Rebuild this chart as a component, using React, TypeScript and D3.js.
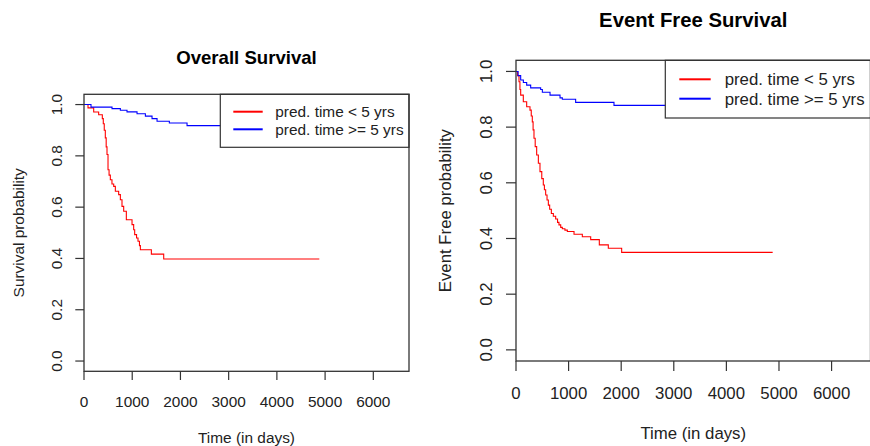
import React from "react";
import * as d3 from "d3";

// ---- Data ----
const xTicks = [0, 1000, 2000, 3000, 4000, 5000, 6000];
const yTicks = [0, 0.2, 0.4, 0.6, 0.8, 1.0];
const seriesLabels = ["pred. time < 5 yrs", "pred. time >= 5 yrs"];
const seriesColors = ["#ff0000", "#0000ff"];

// Overall survival: [time, survival]
const osShort: [number, number][] = [
  [0, 1], [83, 0.987], [201, 0.971], [304, 0.96], [380, 0.945], [400, 0.925], [420, 0.9],
  [442, 0.87], [460, 0.835], [477, 0.805], [498, 0.746], [520, 0.725], [546, 0.707],
  [580, 0.69], [616, 0.681], [650, 0.662], [719, 0.649], [754, 0.629], [788, 0.603],
  [823, 0.584], [878, 0.551], [996, 0.532], [1030, 0.512], [1051, 0.493], [1090, 0.48],
  [1120, 0.467], [1150, 0.45], [1169, 0.434], [1397, 0.417], [1653, 0.398], [4880, 0.398],
];
const osLong: [number, number][] = [
  [0, 1], [145, 0.99], [581, 0.984], [754, 0.978], [892, 0.9715], [1100, 0.964],
  [1273, 0.955], [1411, 0.945], [1515, 0.935], [1770, 0.928], [2137, 0.918], [4900, 0.918],
];

// Event free survival
const efsShort: [number, number][] = [
  [0, 1], [30, 0.985], [57, 0.963], [75, 0.935], [89, 0.915], [139, 0.891], [203, 0.873],
  [266, 0.861], [290, 0.84], [310, 0.819], [325, 0.79], [342, 0.76], [365, 0.73],
  [393, 0.7], [425, 0.67], [456, 0.64], [490, 0.615], [519, 0.592], [540, 0.575],
  [564, 0.556], [590, 0.538], [615, 0.52], [640, 0.505], [672, 0.49], [710, 0.48],
  [754, 0.47], [790, 0.458], [817, 0.449], [850, 0.44], [881, 0.435], [930, 0.43],
  [976, 0.425], [1103, 0.415], [1261, 0.406], [1420, 0.396], [1584, 0.377],
  [1755, 0.365], [2009, 0.35], [4880, 0.35],
];
const efsLong: [number, number][] = [
  [0, 1], [40, 0.985], [89, 0.969], [140, 0.96], [203, 0.951], [279, 0.941], [469, 0.935],
  [501, 0.925], [647, 0.915], [837, 0.905], [881, 0.9], [1134, 0.889], [1863, 0.878],
  [4900, 0.878],
];

const FONT = "'Liberation Sans', Arial, Helvetica, sans-serif";

type PanelProps = {
  title: string;
  ylabel: string;
  curves: [number, number][][];
  box: { x0: number; x1: number; y0: number; y1: number };
  fs: number;
  titleFs: number;
  tickLen: number;
  titleY: number;
  xTickY: number;
  xLabelY: number;
  yTickX: number;
  yLabelX: number;
  legend: { x0: number; y1: number; lx0: number; lx1: number; tx: number; ly: number[] };
};

function Panel(p: PanelProps) {
  const { box } = p;
  const x = d3.scaleLinear().domain([0, 6740]).range([box.x0, box.x1]);
  const y = d3.scaleLinear().domain([-0.04, 1.04]).range([box.y1, box.y0]);
  const line = d3
    .line<[number, number]>()
    .x((d) => x(d[0]))
    .y((d) => y(d[1]))
    .curve(d3.curveStepAfter);
  const cx = (box.x0 + box.x1) / 2;
  const cy = (box.y0 + box.y1) / 2;
  return (
    <g fontFamily={FONT}>
      <text x={cx} y={p.titleY} textAnchor="middle" fontWeight="bold" fontSize={p.titleFs} fill="#000">
        {p.title}
      </text>
      {p.curves.map((c, i) => (
        <path key={i} d={line(c) || ""} fill="none" stroke={seriesColors[i]} strokeWidth={1.1} />
      ))}
      {/* legend */}
      <rect
        x={p.legend.x0}
        y={box.y0}
        width={box.x1 - p.legend.x0}
        height={p.legend.y1 - box.y0}
        fill="#fff"
        stroke="#333"
        strokeWidth={1.2}
      />
      {seriesLabels.map((lab, i) => (
        <g key={lab}>
          <line
            x1={p.legend.lx0}
            x2={p.legend.lx1}
            y1={p.legend.ly[i]}
            y2={p.legend.ly[i]}
            stroke={seriesColors[i]}
            strokeWidth={2}
          />
          <text x={p.legend.tx} y={p.legend.ly[i] + p.fs * 0.36} fontSize={p.fs} fill="#222">
            {lab}
          </text>
        </g>
      ))}
      {/* frame */}
      <rect
        x={box.x0}
        y={box.y0}
        width={box.x1 - box.x0}
        height={box.y1 - box.y0}
        fill="none"
        stroke="#333"
        strokeWidth={1.3}
      />
      {/* x axis */}
      {xTicks.map((t) => (
        <g key={t}>
          <line x1={x(t)} x2={x(t)} y1={box.y1} y2={box.y1 + p.tickLen} stroke="#333" strokeWidth={1.2} />
          <text x={x(t)} y={p.xTickY} textAnchor="middle" fontSize={p.fs} fill="#222">
            {t}
          </text>
        </g>
      ))}
      {/* y axis */}
      {yTicks.map((t) => (
        <g key={t}>
          <line x1={box.x0 - p.tickLen} x2={box.x0} y1={y(t)} y2={y(t)} stroke="#333" strokeWidth={1.2} />
          <text
            transform={`translate(${p.yTickX},${y(t)}) rotate(-90)`}
            textAnchor="middle"
            fontSize={p.fs}
            fill="#222"
          >
            {t.toFixed(1)}
          </text>
        </g>
      ))}
      <text x={cx} y={p.xLabelY} textAnchor="middle" fontSize={p.fs} fill="#222">
        Time (in days)
      </text>
      <text
        transform={`translate(${p.yLabelX},${cy}) rotate(-90)`}
        textAnchor="middle"
        fontSize={p.fs}
        fill="#222"
      >
        {p.ylabel}
      </text>
    </g>
  );
}

export default function App() {
  return (
    <svg
      width={870}
      height={446}
      style={{ position: "absolute", left: 0, top: 0, background: "#fff" }}
    >
      <rect x={0} y={0} width={870} height={446} fill="#fff" />
      <Panel
        title="Overall Survival"
        ylabel="Survival probability"
        curves={[osShort, osLong]}
        box={{ x0: 84, x1: 409, y0: 94.3, y1: 371.3 }}
        fs={15.4}
        titleFs={18.6}
        tickLen={8.7}
        titleY={63.7}
        xTickY={406.5}
        xLabelY={442.8}
        yTickX={61.7}
        yLabelX={24}
        legend={{ x0: 220.3, y1: 147.3, lx0: 233.3, lx1: 262.7, tx: 275.3, ly: [111.7, 129.3] }}
      />
      <Panel
        title="Event Free Survival"
        ylabel="Event Free probability"
        curves={[efsShort, efsLong]}
        box={{ x0: 516, x1: 870.5, y0: 60.3, y1: 361 }}
        fs={16.8}
        titleFs={20.3}
        tickLen={10}
        titleY={26.7}
        xTickY={399.3}
        xLabelY={439.3}
        yTickX={491.7}
        yLabelX={450.7}
        legend={{ x0: 665.3, y1: 118, lx0: 679.3, lx1: 710.7, tx: 724.7, ly: [79.3, 98.7] }}
      />
    </svg>
  );
}
